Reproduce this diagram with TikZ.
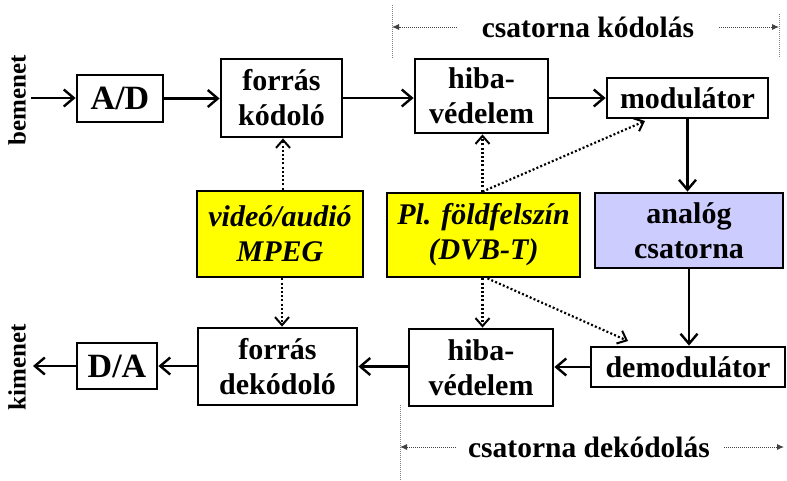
\documentclass[tikz,border=0pt]{standalone}
\usepackage{fontspec}
\setmainfont{Liberation Serif}
\usetikzlibrary{arrows.meta,calc}
\definecolor{boxyellow}{RGB}{255,255,0}
\definecolor{boxlav}{RGB}{204,204,255}
\tikzset{
  blk/.style={draw=black, line width=2.8pt, fill=white, inner sep=0pt, align=center,
    font=\fontsize{30}{35}\selectfont\bfseries},
  big/.style={font=\fontsize{34}{38}\selectfont\bfseries},
  ital/.style={font=\fontsize{30}{35}\selectfont\bfseries\itshape},
  side/.style={font=\fontsize{25}{28}\selectfont\bfseries, rotate=90, inner sep=0pt},
  dimtext/.style={font=\fontsize{29.5}{34}\selectfont\bfseries, inner sep=0pt},
  flow/.style={line width=2.4pt, -{Straight Barb[length=10pt,width=17pt,line width=2.4pt]}},
  dotflow/.style={line width=2.2pt, dash pattern=on 2pt off 2.2pt,
    -{Straight Barb[length=8pt,width=14pt,line width=2pt]}},
  dimline/.style={gray, line width=0.9pt, dash pattern=on 1pt off 1pt},
  dimarrow/.style={black!75, line width=0.9pt, dash pattern=on 1pt off 1pt,
    -{Latex[length=7pt,width=6pt]}}
}
\begin{document}
\begin{tikzpicture}[x=1pt,y=-1pt]
\useasboundingbox (0,0) rectangle (787,480);
% blocks
\node[blk, big, minimum width=86pt, minimum height=47pt] (AD) at (120,98.5) {A/D};
\node[blk, minimum width=121pt, minimum height=78pt] (fk) at (281.5,98) {forrás\\kódoló};
\node[blk, minimum width=133pt, minimum height=74pt] (hv1) at (481.5,96) {hiba-\\védelem};
\node[blk, minimum width=161pt, minimum height=40pt] (mod) at (687.5,98) {modulátor};
\node[blk, ital, fill=boxyellow, minimum width=166pt, minimum height=86pt] (mpeg) at (280,234) {videó/audió\\MPEG};
\node[blk, ital, fill=boxyellow, minimum width=193pt, minimum height=84pt] (pl) at (483.5,235) {Pl. földfelszín\\(DVB-T)};
\node[blk, fill=boxlav, minimum width=188pt, minimum height=75pt] (an) at (689,230.5) {analóg\\csatorna};
\node[blk, minimum width=159pt, minimum height=77pt] (fd) at (277.5,366.5) {forrás\\dekódoló};
\node[blk, big, minimum width=80pt, minimum height=46pt] (DA) at (117,366) {D/A};
\node[blk, minimum width=144pt, minimum height=77pt] (hv2) at (481,367.5) {hiba-\\védelem};
\node[blk, minimum width=194pt, minimum height=40pt] (dem) at (688,367) {demodulátor};
% side labels
\node[side] (in) at (17,100) {bemenet};
\node[side] (out) at (17,367) {kimenet};
\coordinate (inpt) at (31,98);
\coordinate (outpt) at (33,366);
% solid flow
\draw[flow] (inpt) -- (inpt -| AD.west);
\draw[flow] (AD.east) -- (AD.east -| fk.west);
\draw[flow] (fk.east) -- (fk.east -| hv1.west);
\draw[flow] (mod.west -| hv1.east) -- (mod.west);
\draw[flow] (mod.south) -- (mod.south |- an.north);
\draw[flow] (an.south) -- (an.south |- dem.north);
\draw[flow] (dem.west) -- (dem.west -| hv2.east);
\draw[flow] (hv2.west |- fd.east) -- (fd.east);
\draw[flow] (fd.west |- DA.east) -- (DA.east);
\draw[flow] (DA.west) -- (outpt);
% dotted flows
\coordinate (modin) at (645,121);
\coordinate (demin) at (628,341);
\draw[dotflow] ($(mpeg.north)+(3,0)$) -- ($(mpeg.north |- fk.south)+(3,0)$);
\draw[dotflow] ($(mpeg.south)+(2,0)$) -- ($(mpeg.south |- fd.north)+(2,0)$);
\draw[dotflow] ($(pl.north)+(-1,0)$) -- ($(pl.north |- hv1.south)+(-1,0)$);
\draw[dotflow] ($(pl.north)+(-1,0)$) -- (modin);
\draw[dotflow] ($(pl.south)+(-1,0)$) -- ($(pl.south |- hv2.north)+(-1,0)$);
\draw[dotflow] ($(pl.south)+(4,0)$) -- (demin);
% dimension: csatorna kodolas
\node[dimtext] (ck) at (588,27) {csatorna kódolás};
\coordinate (ckL) at (392,27);
\coordinate (ckR) at (779,27);
\draw[dimline] (392,5) -- (392,58);
\draw[dimline] (779,14) -- (779,58);
\draw[dimarrow] ($(ck.west)+(-25,0)$) -- (ckL);
\draw[dimarrow] ($(ck.east)+(25,0)$) -- (ckR);
% dimension: csatorna dekodolas
\node[dimtext] (cd) at (589,447) {csatorna dekódolás};
\coordinate (cdL) at (400,447);
\coordinate (cdR) at (784,447);
\draw[dimline] (400,405) -- (400,480);
\draw[dimarrow] ($(cd.west)+(-12,0)$) -- (cdL);
\draw[dimarrow] ($(cd.east)+(14,0)$) -- (cdR);
\end{tikzpicture}
\end{document}
